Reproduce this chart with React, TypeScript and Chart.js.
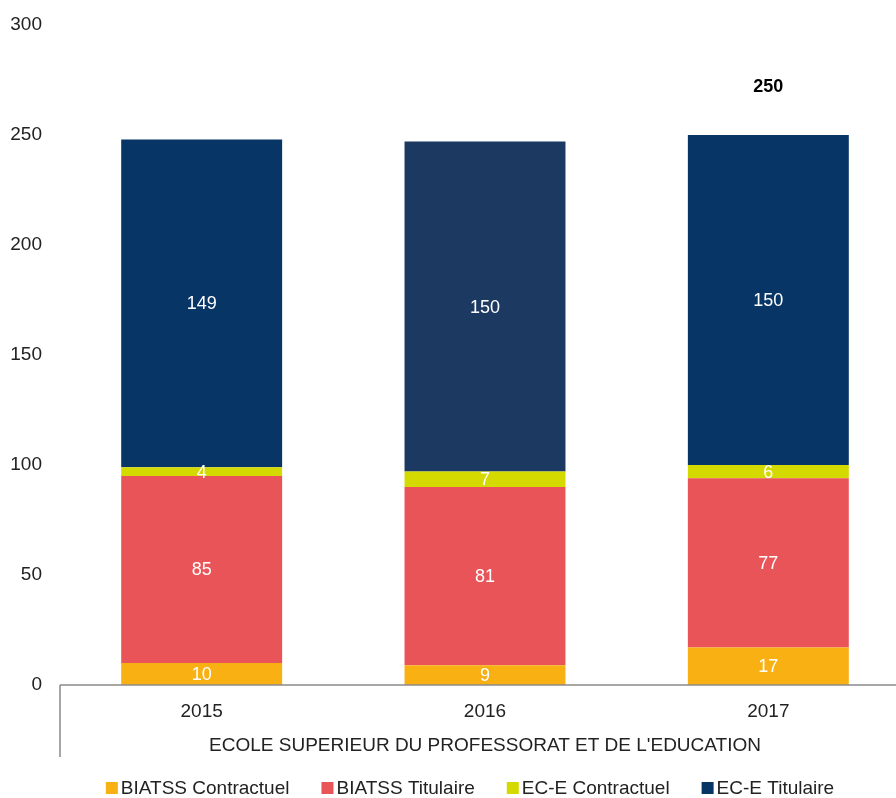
import React, { useEffect, useRef } from "react";
import { Chart, registerables } from "chart.js";

Chart.register(...registerables);

const categories = ["2015", "2016", "2017"];
const groupLabel = "ECOLE SUPERIEUR DU PROFESSORAT ET DE L'EDUCATION";
const biatssContractuel = [10, 9, 17];
const biatssTitulaire = [85, 81, 77];
const eceContractuel = [4, 7, 6];
const eceTitulaire = [149, 150, 150];
const totalLabels = ["", "", "250"];
const seriesNames = ["BIATSS Contractuel", "BIATSS Titulaire", "EC-E Contractuel", "EC-E Titulaire"];
const seriesColors = ["#F8B013", "#E85457", "#D4D900", "#073566"];
const eceTitulaireBarColors = ["#073566", "#1B3961", "#073566"];
const yTicks = [0, 50, 100, 150, 200, 250, 300];

const FONT = "'Liberation Sans', Arial, sans-serif";
const FS = 19;

const overlayPlugin = {
  id: "overlay",
  afterDatasetsDraw(chart: any) {
    const ctx = chart.ctx;
    ctx.save();
    ctx.font = `18px ${FONT}`;
    ctx.fillStyle = "#ffffff";
    ctx.textAlign = "center";
    ctx.textBaseline = "middle";
    chart.data.datasets.forEach((ds: any, di: number) => {
      const meta = chart.getDatasetMeta(di);
      meta.data.forEach((bar: any, i: number) => {
        const cy = (bar.y + bar.base) / 2;
        ctx.fillText(String(ds.data[i]), bar.x, cy + 1);
      });
    });
    const yScale = chart.scales.y;
    const lastMeta = chart.getDatasetMeta(chart.data.datasets.length - 1);
    ctx.font = `bold 18px ${FONT}`;
    ctx.fillStyle = "#000000";
    totalLabels.forEach((t, i) => {
      if (!t) return;
      const bar = lastMeta.data[i];
      ctx.fillText(t, bar.x, yScale.getPixelForValue(Number(t)) - 48);
    });
    ctx.restore();
  },
  afterDraw(chart: any) {
    const ctx = chart.ctx;
    const area = chart.chartArea;
    ctx.save();
    ctx.strokeStyle = "#8a8a8a";
    ctx.lineWidth = 1.5;
    ctx.beginPath();
    ctx.moveTo(area.left, area.bottom);
    ctx.lineTo(chart.width, area.bottom);
    ctx.moveTo(area.left, area.bottom);
    ctx.lineTo(area.left, area.bottom + 72);
    ctx.stroke();

    ctx.font = `${FS}px ${FONT}`;
    ctx.textBaseline = "middle";
    ctx.textAlign = "left";
    const box = 12;
    const gapBoxText = 3;
    const gapItems = 32;
    const widths = seriesNames.map((n) => ctx.measureText(n).width);
    const total = widths.reduce((a, w) => a + box + gapBoxText + w, 0) + gapItems * (seriesNames.length - 1);
    const center = (area.left + area.right) / 2 - 15;
    let x = center - total / 2;
    const y = 789;
    seriesNames.forEach((n, i) => {
      ctx.fillStyle = seriesColors[i];
      ctx.fillRect(x, y - 7, box, box);
      ctx.fillStyle = "#222222";
      ctx.fillText(n, x + box + gapBoxText, y);
      x += box + gapBoxText + widths[i] + gapItems;
    });
    ctx.restore();
  },
};

export default function App() {
  const ref = useRef<HTMLCanvasElement>(null);
  useEffect(() => {
    if (!ref.current) return;
    const datasets = [
      { label: seriesNames[0], data: biatssContractuel, backgroundColor: seriesColors[0] },
      { label: seriesNames[1], data: biatssTitulaire, backgroundColor: seriesColors[1] },
      { label: seriesNames[2], data: eceContractuel, backgroundColor: seriesColors[2] },
      { label: seriesNames[3], data: eceTitulaire, backgroundColor: eceTitulaireBarColors },
    ].map((d) => ({ ...d, barPercentage: 0.568, categoryPercentage: 1, borderWidth: 0 }));
    const chart = new Chart(ref.current, {
      type: "bar",
      data: { labels: categories, datasets },
      options: {
        animation: false,
        responsive: false,
        layout: { padding: { top: 25, right: 0, left: 0, bottom: 0 } },
        plugins: { legend: { display: false }, tooltip: { enabled: false } },
        scales: {
          x: {
            stacked: true,
            grid: { display: false },
            border: { display: false },
            ticks: { color: "#222222", font: { family: FONT, size: FS }, padding: 7.5, maxRotation: 0 },
            title: {
              display: true,
              text: groupLabel,
              color: "#222222",
              font: { family: FONT, size: FS },
              padding: { top: 0, bottom: 40.5 },
            },
            afterFit: (s: any) => {
              s.height = 113;
              s.paddingLeft = 0;
              s.paddingRight = 0;
            },
          },
          y: {
            stacked: true,
            min: 0,
            max: 300,
            grid: { display: false },
            border: { display: false },
            afterBuildTicks: (s: any) => {
              s.ticks = yTicks.map((v) => ({ value: v }));
            },
            ticks: { color: "#222222", font: { family: FONT, size: FS }, padding: 10 },
            afterFit: (s: any) => {
              s.width = 60;
              s.paddingTop = 0;
              s.paddingBottom = 0;
            },
          },
        },
      },
      plugins: [overlayPlugin],
    });
    return () => chart.destroy();
  }, []);
  return (
    <div style={{ position: "fixed", left: 0, top: 0, width: 896, height: 798, overflow: "hidden", background: "#fff" }}>
      <canvas ref={ref} width={910} height={798} style={{ width: 910, height: 798, display: "block" }} />
    </div>
  );
}
